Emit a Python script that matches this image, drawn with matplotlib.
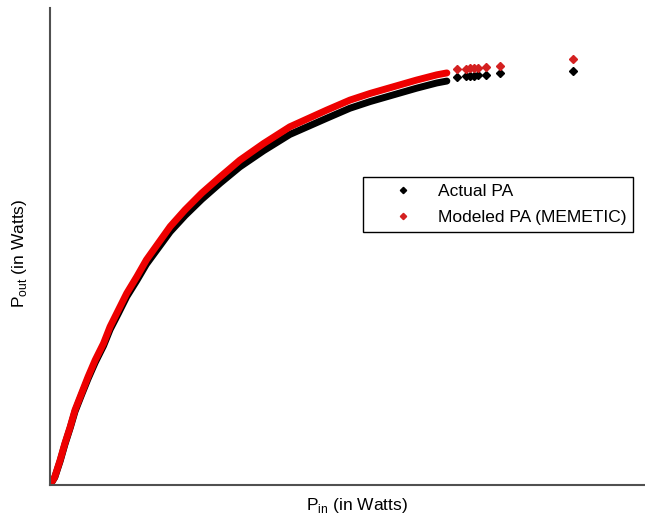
import numpy as np
import matplotlib.pyplot as plt

plt.rcParams['font.family'] = ['Liberation Sans', 'DejaVu Sans']

# dense region of the AM/AM curve (normalised input / output power)
pin_dense = [0.0, 0.008, 0.017, 0.025, 0.034, 0.042, 0.053, 0.064, 0.076,
             0.090, 0.101, 0.115, 0.129, 0.146, 0.162, 0.182, 0.202, 0.227,
             0.255, 0.286, 0.319, 0.359, 0.403, 0.465, 0.504, 0.538, 0.577,
             0.616, 0.650, 0.667]
pout_model_dense = [0.0, 0.017, 0.052, 0.087, 0.122, 0.157, 0.192, 0.227,
                    0.262, 0.297, 0.332, 0.367, 0.402, 0.437, 0.472, 0.507,
                    0.542, 0.577, 0.612, 0.646, 0.681, 0.716, 0.751, 0.786,
                    0.807, 0.821, 0.835, 0.849, 0.860, 0.864]
pout_actual_dense = [0.0, 0.016, 0.050, 0.085, 0.120, 0.154, 0.189, 0.223,
                     0.257, 0.292, 0.326, 0.360, 0.395, 0.429, 0.463, 0.497,
                     0.531, 0.565, 0.599, 0.633, 0.667, 0.701, 0.735, 0.769,
                     0.790, 0.804, 0.818, 0.832, 0.843, 0.847]

# sparse high-power samples
pin_tail = [0.684, 0.699, 0.706, 0.713, 0.719, 0.733, 0.756, 0.879]
pout_actual_tail = [0.855, 0.857, 0.857, 0.857, 0.860, 0.860, 0.864, 0.868]
pout_model_tail = [0.872, 0.872, 0.874, 0.874, 0.874, 0.876, 0.878, 0.893]

fig = plt.figure(figsize=(6.45, 5.21), dpi=100)
ax = fig.add_axes([0.0775, 0.069, 0.9225, 0.9155])

ax.plot(pin_dense, pout_actual_dense, '-', color='black', lw=5,
        solid_capstyle='round', solid_joinstyle='round')
ax.plot(pin_dense, pout_model_dense, '-', color='#ee0000', lw=5,
        solid_capstyle='round', solid_joinstyle='round')
ax.plot(pin_tail, pout_actual_tail, 'D', color='black', ms=4, ls='none',
        label='Actual PA')
ax.plot(pin_tail, pout_model_tail, 'D', color='#d42020', ms=4, ls='none',
        label='Modeled PA (MEMETIC)')

ax.set_xlim(0, 1)
ax.set_ylim(0, 1)
ax.set_xticks([])
ax.set_yticks([])
for side in ['top', 'right']:
    ax.spines[side].set_visible(False)
for side in ['left', 'bottom']:
    ax.spines[side].set_color('#505050')
    ax.spines[side].set_linewidth(1.5)

ax.set_xlabel(r'P$_{\mathregular{in}}$ (in Watts)', fontsize=12.5)
ax.set_ylabel(r'P$_{\mathregular{out}}$ (in Watts)', fontsize=12.5)
ax.xaxis.set_label_coords(0.515, -0.022, transform=ax.transAxes)
ax.yaxis.set_label_coords(-0.036, 0.485, transform=ax.transAxes)

leg = ax.legend(loc='upper left', bbox_to_anchor=(0.526, 0.646),
                borderaxespad=0, fancybox=False, framealpha=1,
                edgecolor='black', fontsize=12.5, markerscale=0.8,
                handlelength=3.8, handletextpad=0.1, borderpad=0.4,
                labelspacing=0.6)
leg.get_frame().set_linewidth(1.0)

fig.savefig('out.png', dpi=100)
